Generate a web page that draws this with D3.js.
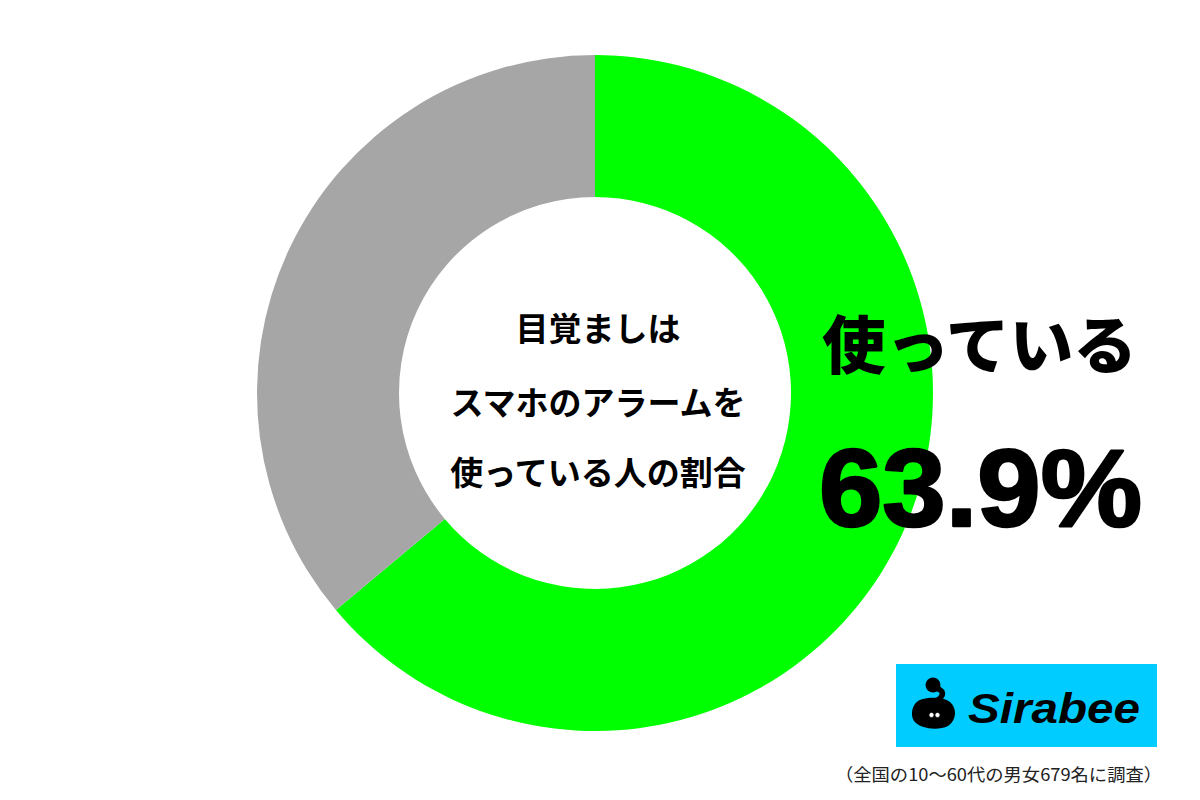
<!DOCTYPE html>
<html><head><meta charset="utf-8">
<script src="https://cdn.jsdelivr.net/npm/d3@7"></script>
<style>html,body{margin:0;padding:0;background:#fff;}svg{display:block;}</style>
</head><body>
<svg id="c" width="1200" height="800"></svg>
<script>
const categories = ["使っている", "使っていない"];
const values = [63.9, 36.1];
const colors = ["#00ff00", "#a6a6a6"];
const centerLines = ["目覚ましは", "スマホのアラームを", "使っている人の割合"];
const highlightLabel = "使っている";
const highlightValue = "63.9%";
const note = "（全国の10〜60代の男女679名に調査）";
const brand = "Sirabee";

const svg = d3.select("#c");
const cx = 595, cy = 393, rOuter = 338, rInner = 196;

const pie = d3.pie().sort(null).value(d => d)(values);
const arc = d3.arc().innerRadius(rInner).outerRadius(rOuter);
const g = svg.append("g").attr("transform", `translate(${cx},${cy})`);
g.selectAll("path").data(pie).join("path")
  .attr("d", arc).attr("fill", (d, i) => colors[i]);

const jp = "'Noto Sans CJK JP', 'Noto Sans', sans-serif";
const ys = [327, 401, 471];
svg.selectAll("text.center").data(centerLines).join("text")
  .attr("class", "center")
  .attr("x", 598).attr("y", (d, i) => ys[i])
  .attr("text-anchor", "middle").attr("dominant-baseline", "central")
  .attr("font-family", jp).attr("font-weight", 700).attr("font-size", 33)
  .attr("fill", "#000").text(d => d);

svg.append("text").attr("x", 822).attr("y", 340)
  .attr("dominant-baseline", "central")
  .attr("font-family", jp).attr("font-weight", 900).attr("font-size", 63)
  .attr("textLength", 315).attr("lengthAdjust", "spacingAndGlyphs")
  .attr("fill", "#000").text(highlightLabel);

svg.append("text").attr("x", 819).attr("y", 526)
  .attr("font-family", "'Liberation Sans', Arial, sans-serif").attr("font-weight", 700).attr("font-size", 109)
  .attr("textLength", 323).attr("lengthAdjust", "spacingAndGlyphs")
  .attr("stroke", "#000").attr("stroke-width", 2.6).attr("stroke-linejoin", "round")
  .attr("fill", "#000").text(highlightValue);

// logo
const lg = svg.append("g");
lg.append("rect").attr("x", 896).attr("y", 664).attr("width", 261).attr("height", 83).attr("fill", "#00ccff");
lg.append("circle").attr("cx", 933).attr("cy", 685).attr("r", 7.5).attr("fill", "#000");
lg.append("path").attr("fill", "none").attr("stroke", "#000").attr("stroke-width", 5.5).attr("stroke-linecap", "round")
  .attr("d", "M936,688 C946,691 945,699 928,704");
lg.append("path").attr("fill", "#000")
  .attr("d", "M918,701 C924,697 942,696 950,702 C957,708 957,720 948,726 C938,731 920,729 914,721 C910,715 912,705 918,701 Z");
lg.append("circle").attr("cx", 931.5).attr("cy", 715).attr("r", 2.6).attr("fill", "#fff").attr("stroke", "#000").attr("stroke-width", 0.8);
lg.append("circle").attr("cx", 937.5).attr("cy", 715).attr("r", 2.6).attr("fill", "#fff").attr("stroke", "#000").attr("stroke-width", 0.8);
lg.append("text").attr("x", 968).attr("y", 723)
  .attr("font-family", "'Liberation Sans', Arial, sans-serif").attr("font-weight", 700).attr("font-style", "italic")
  .attr("font-size", 43).attr("textLength", 172).attr("lengthAdjust", "spacingAndGlyphs")
  .attr("fill", "#000").text(brand);

svg.append("text").attr("x", 1162).attr("y", 773)
  .attr("text-anchor", "end").attr("dominant-baseline", "central")
  .attr("font-family", jp).attr("font-weight", 400).attr("font-size", 17.5)
  .attr("textLength", 327).attr("lengthAdjust", "spacingAndGlyphs")
  .attr("fill", "#222").text(note);
</script>
</body></html>
